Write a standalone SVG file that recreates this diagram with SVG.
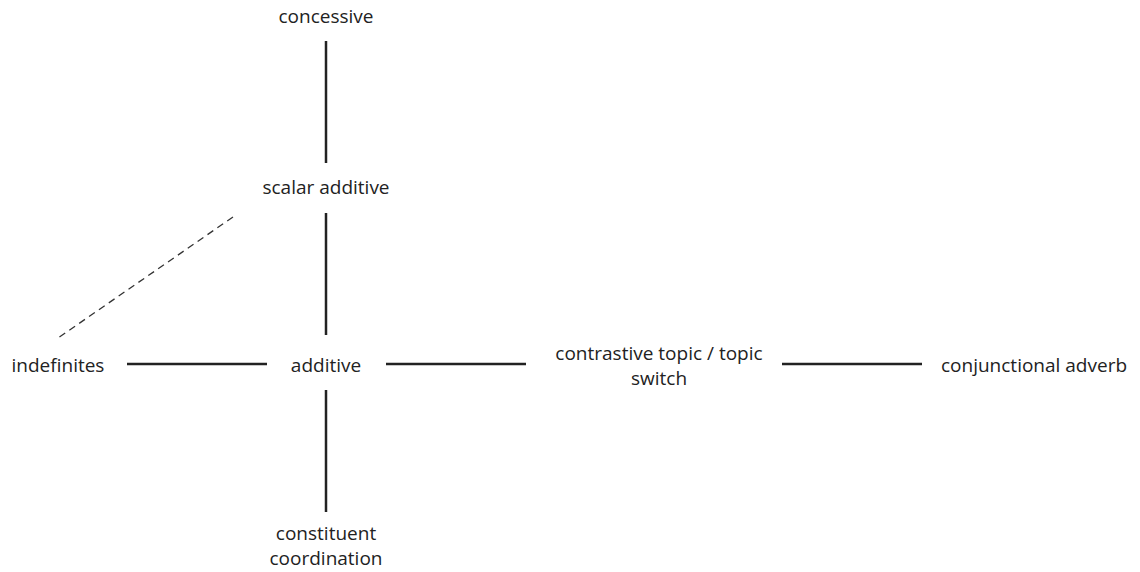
<svg xmlns="http://www.w3.org/2000/svg" width="1140" height="572" viewBox="0 0 1140 572">
<style>
text{font-family:"Open Sans","Noto Sans",sans-serif;font-size:19px;fill:#222;text-anchor:middle}
.e{stroke:#222;stroke-width:2.5;fill:none}
.d{stroke:#333;stroke-width:1.3;stroke-dasharray:7,5;fill:none}
</style>
<rect width="1140" height="572" fill="#fff"/>
<g id="connectors">
<line class="e" x1="326" y1="41" x2="326" y2="163"/>
<line class="e" x1="326" y1="213" x2="326" y2="335"/>
<line class="d" x1="233" y1="217" x2="58" y2="338"/>
<line class="e" x1="127" y1="364" x2="267" y2="364"/>
<line class="e" x1="386" y1="364" x2="526" y2="364"/>
<line class="e" x1="782" y1="364" x2="922" y2="364"/>
<line class="e" x1="326" y1="390" x2="326" y2="512"/>
</g>
<g id="concessive"><text x="326" y="23">concessive</text></g>
<g id="scalar-additive"><text x="326" y="194">scalar additive</text></g>
<g id="indefinites"><text x="58" y="372">indefinites</text></g>
<g id="additive"><text x="326" y="372">additive</text></g>
<g id="contrastive-topic"><text x="659" y="360">contrastive topic / topic</text><text x="659" y="385">switch</text></g>
<g id="conjunctional-adverb"><text x="1034" y="372">conjunctional adverb</text></g>
<g id="constituent-coordination"><text x="326" y="540">constituent</text><text x="326" y="565">coordination</text></g>
</svg>
